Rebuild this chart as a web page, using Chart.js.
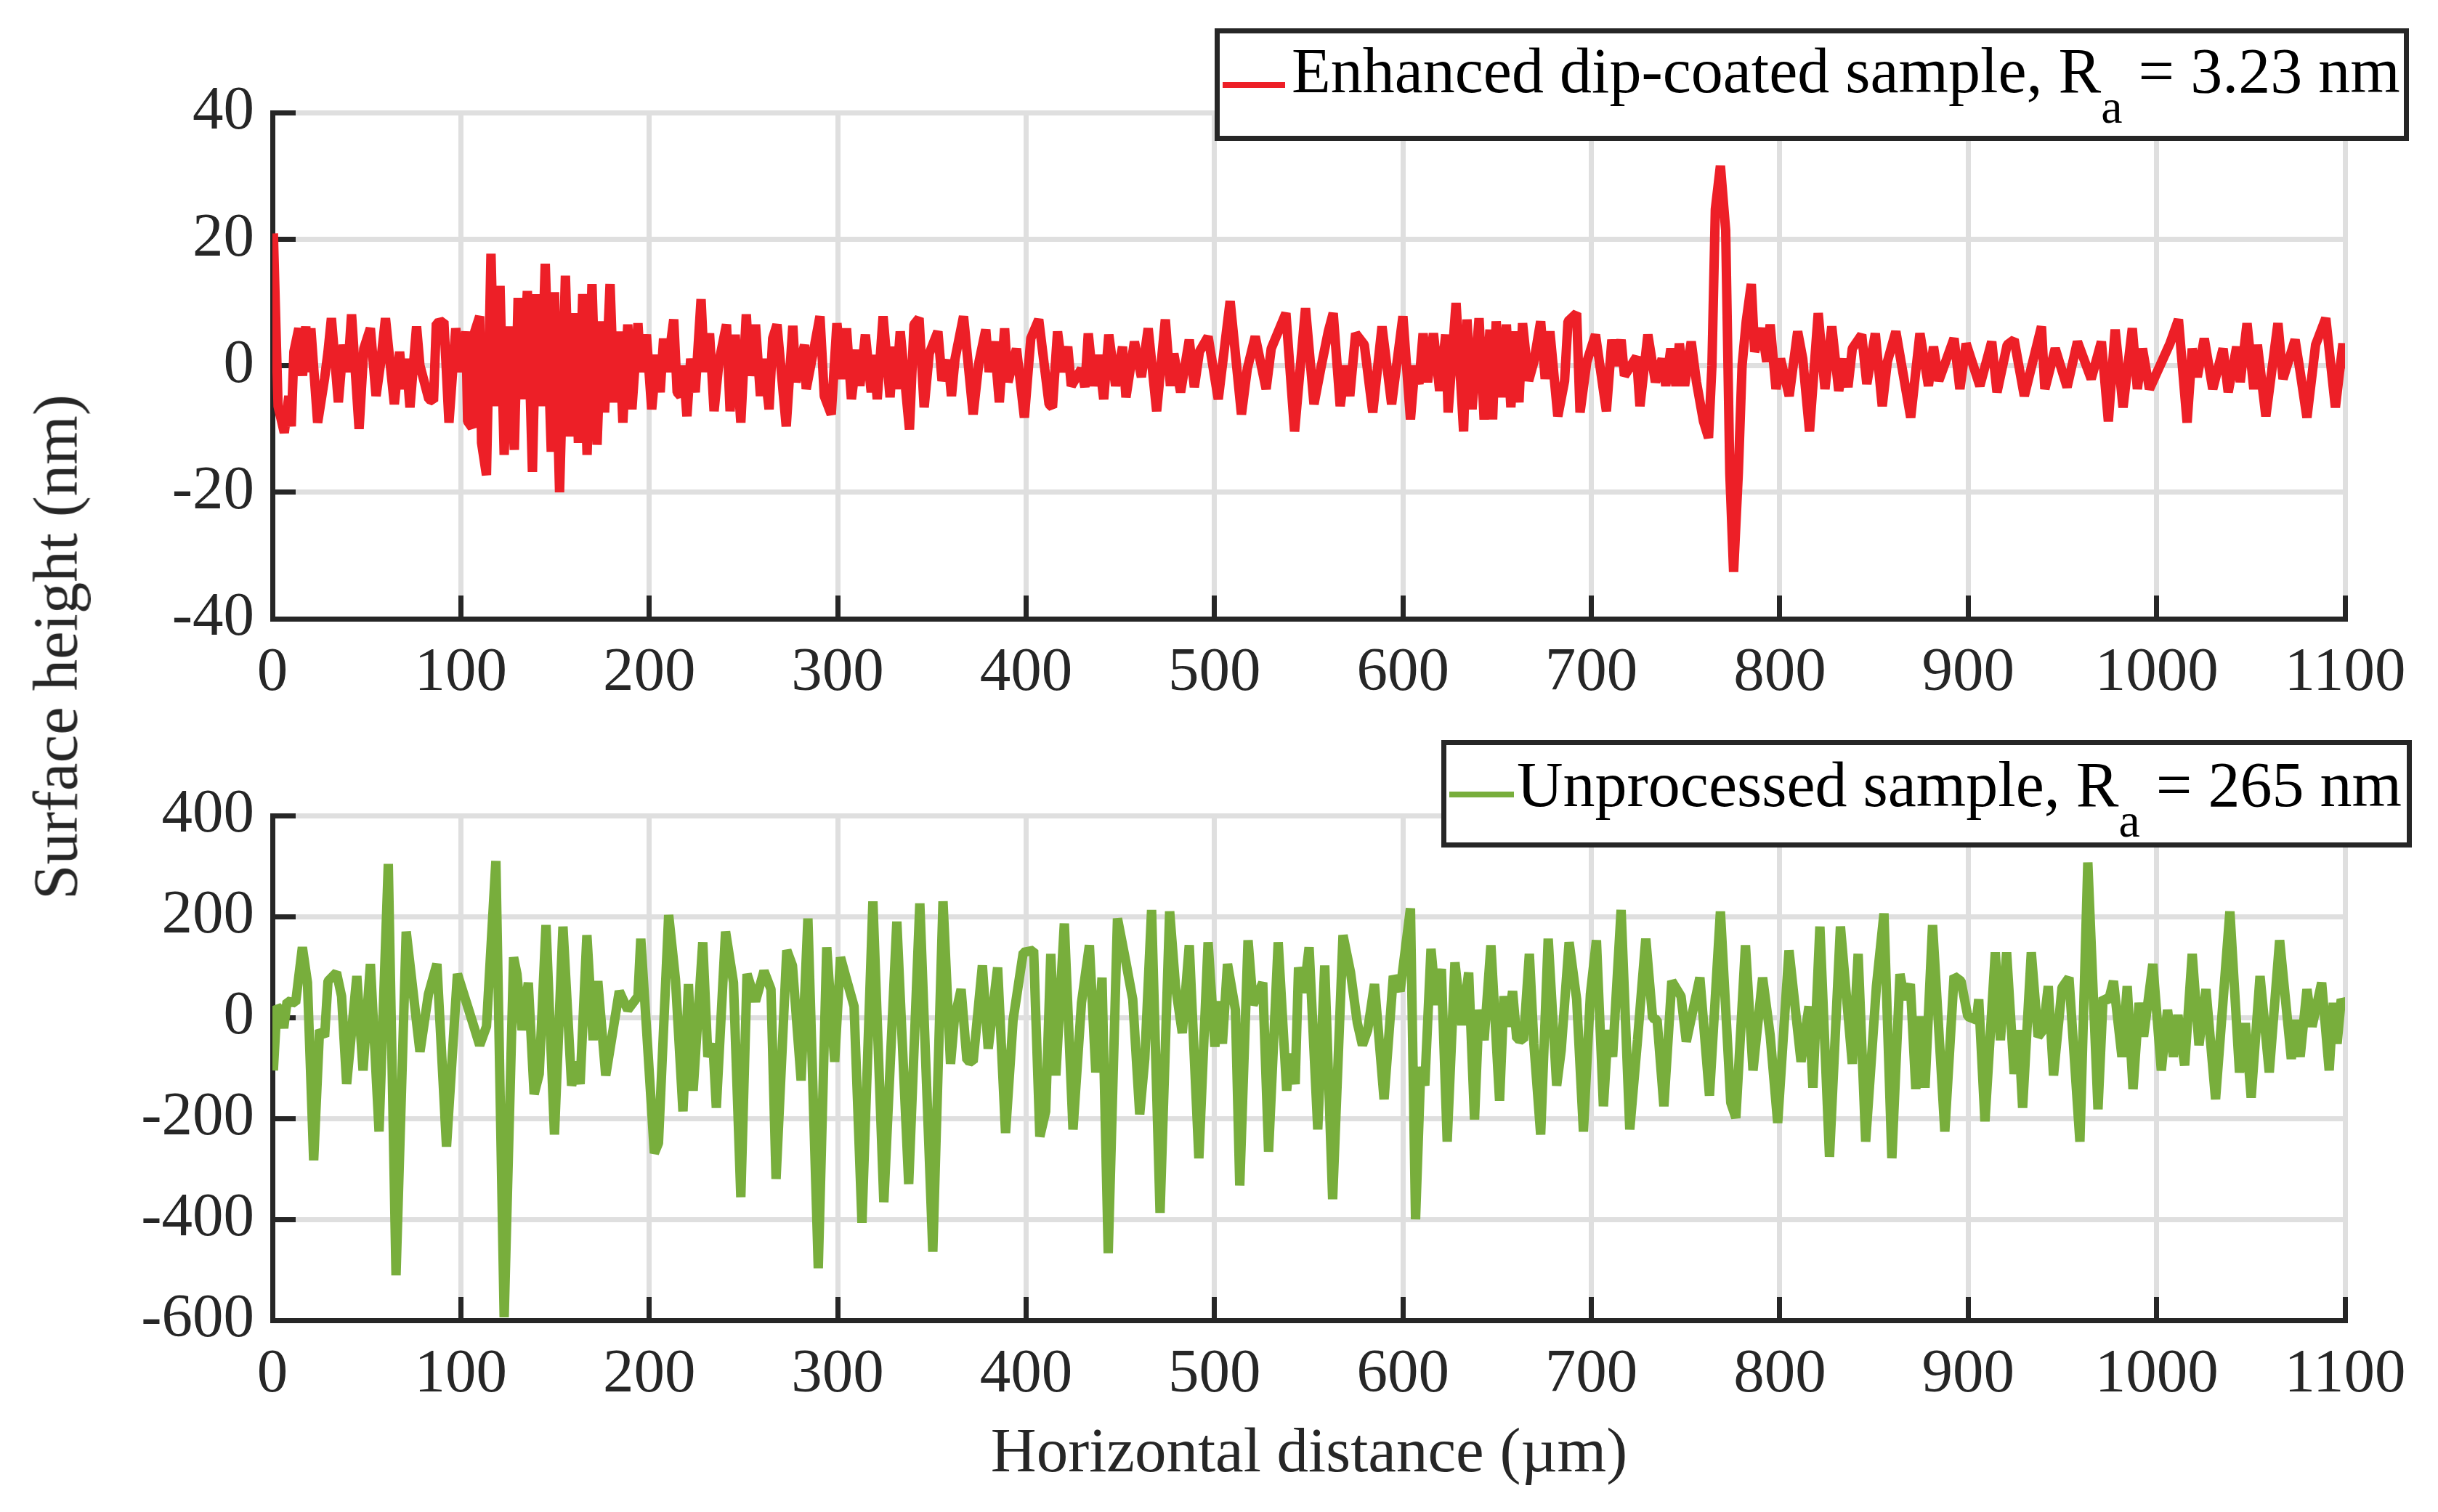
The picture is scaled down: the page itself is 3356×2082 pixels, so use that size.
<!DOCTYPE html>
<html>
<head>
<meta charset="utf-8">
<title>Surface profiles</title>
<script src="https://cdn.jsdelivr.net/npm/chart.js@4.4.0/dist/chart.umd.min.js"></script>
<style>
  html, body { margin: 0; padding: 0; background: #fff; }
  #page {
    position: relative; width: 3356px; height: 2082px; overflow: hidden;
    font-family: "Liberation Serif", "Times New Roman", serif; color: #262626;
  }
  #page canvas { position: absolute; left: 0; }
  .legend-box { position: absolute; box-sizing: border-box; border: 7px solid #262626; background: #fff; }
  .legend-line { position: absolute; height: 8px; }
  .legend-text { position: absolute; font-size: 88px; line-height: 88px; white-space: nowrap; color: #000; }
  .legend-text sub { font-size: 75%; vertical-align: -42px; line-height: 0; }
  .axis-title { position: absolute; font-size: 87px; line-height: 87px; white-space: nowrap; }
</style>
</head>
<body>
<div id="page">
  <canvas id="enhancedChart" width="3356" height="1000" style="top:0"></canvas>
  <canvas id="unprocessedChart" width="3356" height="1082" style="top:1000px"></canvas>

  <div class="legend-box" style="left:1672px; top:39px; width:1644px; height:155px"></div>
  <div class="legend-line" style="left:1683px; top:113px; width:86px; background:#ED1F27"></div>
  <div class="legend-text" style="left:1778px; top:54px">Enhanced dip-coated sample, R<sub>a</sub> = 3.23 nm</div>

  <div class="legend-box" style="left:1984px; top:1019px; width:1336px; height:148px"></div>
  <div class="legend-line" style="left:1995px; top:1090px; width:89px; background:#78AE3C"></div>
  <div class="legend-text" style="left:2088px; top:1037px">Unprocessed sample, R<sub>a</sub> = 265 nm</div>

  <div class="axis-title" style="left:76px; top:891px; transform:translate(-50%,-50%) rotate(-90deg)">Surface height (nm)</div>
  <div class="axis-title" style="left:1802px; top:1953px; transform:translateX(-50%)">Horizontal distance (µm)</div>
</div>

<script>
// horizontal distance range (µm)
const distanceRange = [0, 1100];
const distanceStep = 100;

// surface height ranges (nm)
const enhancedRange = [-40, 40];
const enhancedStep = 20;
const unprocessedRange = [-600, 400];
const unprocessedStep = 200;

// enhanced dip-coated sample profile: [distance µm, height nm]
const enhancedProfile = [
  [0.5,20.9],[3,-6.4],[6.3,-10.6],[8.7,-4.8],[10,-9.6],[11.4,2.2],[14,5.9],[16,-1.6],[17.7,6.2],[18.6,-1],
  [20.4,5.9],[24,-9],[27.7,-2],[29.5,2.2],[31.3,7.5],[35,-5.8],[37.6,3.3],[40,-1],[42,8.1],[46,-10],
  [48.5,2.7],[52,5.9],[55,-4.8],[57.5,0.6],[60,7.5],[64.7,-6.1],[67.5,2.2],[69.3,-3.7],[71,1.1],[73,-6.6],
  [76.5,6.2],[78.3,0],[83,-5.3],[85.5,-5.6],[87,6.7],[91,7],[93.7,-9],[97.3,5.9],[100,-1],[102.7,5.4],
  [103.6,-8.8],[106,-9.8],[107.4,5.4],[110,7.8],[111,-12.2],[113.6,-17.3],[116,17.7],[118,-6.4],[120.8,12.6],[123,-14.1],
  [125,6.2],[128.4,-13.3],[130.4,10.7],[132.5,-5.3],[135.3,11.8],[138,-16.8],[140.1,11.3],[142.5,-6.4],[144.8,16.1],[148,-13.6],
  [149.7,11.6],[152.4,-20],[155.5,14.2],[158,-11.2],[160.6,8.3],[162.4,-12.2],[164.7,11.3],[167,-14.1],[169.6,12.9],[172.3,-12.5],
  [174.7,7],[176.3,-7.4],[179.2,12.9],[181.4,-5.8],[184,5.4],[186,-9],[188.6,6.5],[190.8,-6.9],[194,6.7],[195.5,-1],
  [198.5,4.9],[201.3,-6.9],[204,1.7],[205.8,-4.2],[207.6,4.3],[209.4,-1],[213,7.3],[214.8,-4.2],[216.6,-4.8],[218,0],
  [220,-8],[222,1.1],[224.4,-4.2],[227.5,10.5],[229.3,-1],[232,5.1],[234.4,-7.2],[237,0.6],[241,6.5],[242.9,-7.2],
  [245.6,4.9],[248.6,-9],[251.5,8.1],[253.3,-1.6],[256.4,6.5],[259,-4.8],[260.6,1.1],[263.6,-6.9],[265.5,4.3],[267.8,6.5],
  [272.7,-9.6],[276.2,6.3],[277.9,-2.6],[282.4,3.3],[283.3,-3.7],[287.8,3.3],[290.6,7.8],[292.9,-4.8],[296.6,-7.7],[299.6,6.7],
  [302.4,-2.1],[304.7,5.9],[307.3,-5.3],[310.5,2.5],[311.8,-3.2],[314.7,4.9],[317.8,-4.2],[319.1,1.7],[321,-5.3],[324.1,7.8],
  [327.8,-5],[329.6,3],[331,-3.7],[333.2,5.4],[338.1,-10.1],[340.5,6.5],[343.2,7.5],[345.9,-6.6],[348.6,1.9],[353.2,5.4],
  [355.4,-2.4],[358.6,0.9],[360.4,-4.8],[362.3,1.1],[366.8,7.8],[371.9,-7.7],[375,0.6],[378.6,5.7],[380.4,-1],[383.1,3.8],
  [385.8,-5.8],[388.6,5.9],[390.4,-2.6],[394.9,2.7],[399.1,-8.2],[402.5,4.3],[406.7,7.3],[412.2,-6.1],[414,-6.6],[416.7,5.4],
  [419.4,-1],[422.1,3],[424,-3.2],[429.4,-0.5],[431.2,-3.4],[433,5.1],[435.8,-3.2],[438.5,1.7],[441.2,-5.3],[443.9,4.9],
  [447.5,-3.2],[451.2,3],[453,-5],[457.5,3.8],[461.2,-1.8],[464.8,5.9],[469.3,-7.2],[473.9,7.3],[476.6,-3.2],[478.4,1.9],
  [482,-4.2],[486.6,4.1],[489.3,-3.4],[492,2.2],[496.6,4.6],[502,-5.3],[508.3,10.2],[514.3,-7.7],[517.4,-0.5],[521.6,4.6],
  [527.4,-3.7],[530.1,2.7],[537.9,8.3],[542.5,-10.4],[548.3,9.1],[552.8,-6.1],[556.7,0],[560.4,5.4],[563,8.3],[566.7,-6.4],
  [569.5,0],[571.8,-4.8],[574.9,5.1],[579.5,3.3],[584,-7.4],[588.9,6.2],[594,-6.1],[600,7.8],[604,-8.5],[606.4,0],
  [608.5,-2.9],[610.7,5.1],[613.1,-2.6],[616.2,5.1],[619.5,-4],[622.7,4.9],[624,-7.4],[628.2,9.9],[632.2,-10.4],[634,7.3],
  [636.7,-6.9],[640.4,7.5],[643.1,-8.5],[646.2,5.7],[647.6,-8.5],[649.5,7],[652.2,-5],[654.9,6.5],[657.3,-6.6],[659.5,5.4],
  [661.6,-5.8],[663.5,6.7],[666.7,-2.4],[669.5,0.6],[673.1,7],[675.5,-2.1],[678,5.4],[682.2,-8],[685.8,-2.4],[687.6,7],
  [692.2,8.3],[694,-7.4],[697.6,0.6],[702.2,4.9],[708,-7.2],[710.9,4.1],[713.1,0],[715.8,4.1],[717.6,-1.6],[724,1.4],
  [725.8,-6.4],[730,4.9],[734,-2.6],[737.6,1.1],[739.5,-3.2],[742.2,2.7],[744.9,-3.2],[746.7,3.5],[749.5,-3.2],[753,3.8],
  [755.8,-2.6],[759.5,-8.8],[762.2,-11.4],[764,0],[765.8,24.7],[768.5,31.6],[771.3,21.4],[773.5,-17.1],[775.5,-32.6],[778,-17.1],
  [780,0],[782.2,7],[784.9,12.9],[786.7,2.2],[790.4,5.9],[793.1,0.6],[794.9,6.5],[798,-3.7],[800.4,1.1],[805,-4.8],
  [809.5,5.4],[812.2,1.1],[815.8,-10.4],[820.4,8.3],[824,-3.7],[827.6,6.2],[831.3,-4],[834.4,1.1],[836.2,-3.4],[838.5,2.7],
  [843.5,4.9],[846.2,-2.9],[850.7,5.1],[854.4,-6.4],[857.1,0.6],[861.6,5.4],[865.3,-1],[869.5,-8.2],[874.4,5.1],[878.9,-3.2],
  [881.6,3],[884.4,-2.4],[892.5,4.3],[895.6,-3.7],[898.9,3.5],[906.2,-3.2],[912.5,3.8],[915.3,-4.2],[920.7,3.3],[924.4,4.1],
  [929.8,-4.8],[938.9,6.2],[940.7,-3.7],[946.2,2.7],[952.5,-3.4],[958,3.8],[965.3,-2.1],[970.7,3.8],[974.4,-8.8],[978,5.7],
  [982.2,-6.6],[987.1,5.9],[989.8,-3.7],[992.5,2.7],[996.2,-3.7],[1007.1,3.5],[1011.6,7.3],[1016.2,-9],[1018.9,2.7],[1021.6,-1.8],
  [1025.3,4.3],[1029.8,-3.7],[1035.3,2.7],[1038,-4.2],[1042.5,3],[1044.4,-2.6],[1048,6.7],[1051.6,-3.7],[1053.5,3.3],[1058,-8],
  [1064.4,6.7],[1067.1,-2.1],[1073.5,4.1],[1076.2,-1],[1079.8,-8.2],[1084.4,3.3],[1089.8,7.5],[1094.9,-6.6],[1098.9,3.5],[1100,-0.5]
];

// unprocessed sample profile: [distance µm, height nm]
const unprocessedProfile = [
  [0.5,-105],[2.4,22],[4.2,15],[6,-21],[7.8,32],[12.3,29],[15.9,139],[18.6,69],[21.9,-283],[25,-25],
  [27.7,-38],[29.5,72],[34,89],[36.7,42],[39.4,-132],[44.8,82],[48.1,-105],[52,106],[56.6,-226],[61.5,304],
  [65.6,-511],[71,170],[78.3,-68],[82.8,46],[87.3,106],[92.4,-256],[98.2,86],[103.6,22],[110,-55],[113.6,-18],
  [118.6,310],[123,-594],[128,119],[129.8,86],[132.5,-25],[135.8,69],[138.9,-152],[141.6,-112],[145.2,183],[149.7,-232],
  [154.2,180],[158.8,-135],[161.5,-88],[163.3,-132],[166.9,163],[170.2,-45],[172.7,72],[176.9,-115],[184.1,52],[188.6,15],
  [194,42],[195.5,156],[198.6,-25],[202.7,-269],[204.9,-249],[210.3,203],[213.9,76],[217.9,-186],[220.8,66],[223.3,-145],
  [228.4,149],[231.1,-78],[233.8,-52],[235.6,-179],[240.5,170],[244.7,69],[248.6,-356],[251.9,86],[256.4,32],[260.9,92],
  [264.6,56],[267.3,-320],[273,133],[276,103],[280.6,-125],[284.2,196],[289.7,-497],[294.2,139],[298.4,-88],[301.5,119],
  [304.2,82],[308.7,22],[312.9,-407],[318.7,230],[324.5,-366],[331.4,190],[337.7,-330],[343.6,226],[350.5,-464],[355.9,230],
  [359.9,-92],[361.9,-5],[365.5,56],[368.6,-85],[371.9,-88],[376.8,103],[379.9,-62],[384.9,99],[389.1,-229],[393.1,-5],
  [398.5,129],[404,133],[407.3,-236],[410.4,-186],[413.1,126],[415.8,-115],[420.3,186],[424.9,-222],[429.4,29],[433.6,143],
  [437,-109],[440.3,79],[443.6,-467],[448.5,196],[453,109],[456.6,36],[460.3,-192],[463,-82],[466.6,213],[471.1,-387],
  [476.2,210],[479.3,62],[482.9,-31],[486.6,143],[491.7,-279],[496.6,149],[500.2,-58],[502,32],[504.2,-52],[506.9,106],
  [511.1,15],[513.4,-333],[517.8,153],[520.5,25],[525.6,69],[528.7,-266],[533.8,149],[538.3,-145],[540.1,-72],[542.8,-132],
  [544.6,99],[547.4,49],[550.2,139],[554.8,-222],[558.5,103],[562.7,-360],[568.2,163],[572.2,89],[575.8,-11],[578.5,-55],
  [581.3,-25],[584.9,66],[590,-162],[594.9,82],[598.5,52],[604,216],[606.7,-400],[609.5,-98],[611.6,-135],[614.9,136],
  [617.6,25],[620.4,96],[623.5,-246],[627.6,109],[631.3,-15],[634.9,89],[638,-202],[640.4,15],[643.1,-45],[646.7,143],
  [651.3,-165],[653.6,42],[655.8,-18],[658.2,52],[660.4,-42],[664,-45],[667.1,126],[669.5,-52],[673.1,-232],[677.1,156],
  [681.6,-135],[684,-65],[688.2,149],[692.2,36],[695.8,-226],[699.5,46],[702.7,153],[706.4,-176],[708.9,-25],[711.3,-78],
  [715.8,213],[720.4,-222],[724.5,-45],[728.9,156],[732.5,-1],[734.9,-5],[738.5,-176],[742.7,72],[747.6,42],[750.4,-48],
  [757.6,79],[762.7,-155],[768.5,210],[774,-169],[776.7,-199],[781.8,143],[785.8,-105],[790.9,79],[794.9,-35],[798.9,-209],
  [804.9,133],[811.3,-88],[815.5,22],[817.6,-139],[821.3,180],[826.4,-276],[832.2,180],[838.5,-92],[841.6,126],[845.6,-246],
  [851.3,62],[855.3,206],[859.5,-279],[863.8,86],[866.2,36],[869.3,66],[872.2,-142],[874.4,2],[877.1,-139],[881.1,183],
  [887.6,-226],[892.5,82],[896.2,72],[899.8,2],[904.4,-5],[905.6,36],[908.9,-206],[914.4,129],[917.1,-45],[920.4,129],
  [924.4,-112],[926.7,-25],[928.9,-179],[933.5,129],[937.1,-38],[939.8,-25],[942.5,62],[945.3,-115],[949.8,59],[953.5,79],
  [959.3,-246],[963.5,307],[968.9,-182],[971.6,39],[974.4,32],[977.1,72],[981.6,-78],[984.4,62],[987.5,-142],[990.7,29],
  [993.1,-38],[998,106],[1002.5,-105],[1005.8,15],[1008.9,-78],[1011.3,5],[1014.9,-95],[1018.9,126],[1022.5,-55],[1026.2,56],
  [1031.3,-162],[1038.9,210],[1044,-109],[1047.1,-11],[1050.2,-159],[1054.9,82],[1059.8,-109],[1065.3,153],[1071.5,-82],[1073.8,-5],
  [1076.2,-78],[1079.8,56],[1082.5,-18],[1087.6,69],[1091.6,-105],[1093.8,29],[1095.8,-52],[1098,36],[1100,22]
];

const axisColor = "#262626";
const gridColor = "#dfdfdf";
const lineWidth = 13;
const tickFont = { family: "'Liberation Serif', 'Times New Roman', serif", size: 85 };

// pin the axis boxes so both plot areas land where the figure has them
function fixAxisSize(size) {
  return function (scale) {
    if (scale.isHorizontal()) {
      scale.height = size;
    } else {
      scale.width = size;
    }
    scale.paddingTop = 0;
    scale.paddingBottom = 0;
    scale.paddingLeft = 0;
    scale.paddingRight = 0;
  };
}

function renderProfile(canvasId, profile, color, range, step, padTop, xAxisHeight) {
  const ctx = document.getElementById(canvasId);
  return new Chart(ctx, {
    type: "line",
    data: {
      datasets: [{
        data: profile.map(([x, y]) => ({ x: x, y: y })),
        borderColor: color,
        borderWidth: lineWidth,
        borderJoinStyle: "bevel",
        pointRadius: 0,
        tension: 0,
        fill: false,
      }],
    },
    options: {
      responsive: false,
      animation: false,
      events: [],
      elements: {
        line: { borderWidth: lineWidth, borderJoinStyle: "bevel", tension: 0 },
        point: { radius: 0 },
      },
      layout: { padding: { top: padTop, right: 128, left: 0, bottom: 0 } },
      plugins: {
        legend: { display: false },
        tooltip: { enabled: false },
      },
      scales: {
        x: {
          type: "linear",
          min: distanceRange[0],
          max: distanceRange[1],
          afterFit: fixAxisSize(xAxisHeight),
          ticks: {
            stepSize: distanceStep,
            autoSkip: false,
            maxRotation: 0,
            padding: 57,
            color: axisColor,
            font: tickFont,
            callback: (v) => String(v),
          },
          grid: {
            color: gridColor,
            lineWidth: 7,
            tickColor: axisColor,
            tickWidth: 7,
            tickLength: -32, // MATLAB style inward ticks
          },
          border: { color: axisColor, width: 7 },
        },
        y: {
          type: "linear",
          min: range[0],
          max: range[1],
          afterFit: fixAxisSize(375),
          ticks: {
            stepSize: step,
            autoSkip: false,
            padding: 57,
            color: axisColor,
            font: tickFont,
            callback: (v) => String(v),
          },
          grid: {
            color: gridColor,
            lineWidth: 7,
            tickColor: axisColor,
            tickWidth: 7,
            tickLength: -32,
          },
          border: { color: axisColor, width: 7 },
        },
      },
    },
  });
}

renderProfile("enhancedChart", enhancedProfile, "#ED1F27", enhancedRange, enhancedStep, 155, 148);
renderProfile("unprocessedChart", unprocessedProfile, "#78AE3C", unprocessedRange, unprocessedStep, 123, 264);
</script>
</body>
</html>
